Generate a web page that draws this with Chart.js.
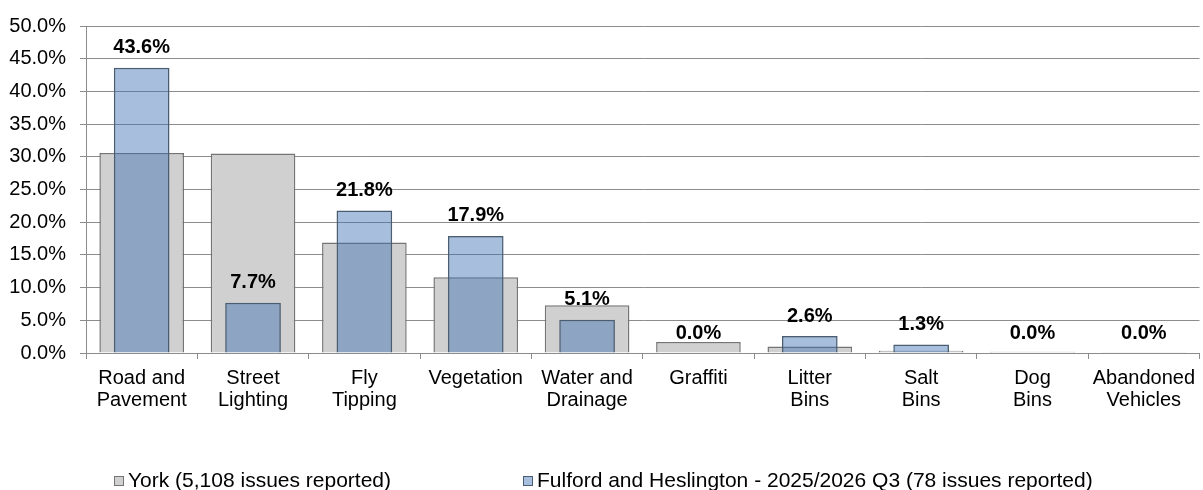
<!DOCTYPE html>
<html>
<head>
<meta charset="utf-8">
<script src="https://cdn.jsdelivr.net/npm/chart.js@4/dist/chart.umd.min.js"></script>
<style>
  html, body { margin: 0; padding: 0; background: #fff; }
  #wrap { position: relative; width: 1203px; height: 490px; overflow: hidden; }
  #legend { position: absolute; top: 469px; left: 0; width: 1203px; height: 21px;
    font-family: "Liberation Sans", Arial, sans-serif; font-size: 21px; color: #000; }
  .item { position: absolute; top: 0; white-space: nowrap; line-height: 22px; }
  .box { display: inline-block; width: 10px; height: 10px; margin-right: 4px; vertical-align: 1px; box-sizing: border-box; }
</style>
</head>
<body>
<div id="wrap">
  <canvas id="c" width="1203" height="490"></canvas>
  <div id="legend"></div>
</div>
<script>
const categories = [
  ["Road and", "Pavement"], ["Street", "Lighting"], ["Fly", "Tipping"], ["Vegetation"],
  ["Water and", "Drainage"], ["Graffiti"], ["Litter", "Bins"], ["Salt", "Bins"],
  ["Dog", "Bins"], ["Abandoned", "Vehicles"]
];
const yorkLabel = "York (5,108 issues reported)";
const fulfordLabel = "Fulford and Heslington - 2025/2026 Q3 (78 issues reported)";
const yorkValues = [30.6, 30.5, 16.9, 11.6, 7.3, 1.7, 1.0, 0.35, 0.2, 0.1];
const fulfordValues = [43.6, 7.7, 21.8, 17.9, 5.1, 0.0, 2.6, 1.3, 0.0, 0.0];
const yTicks = [0, 5, 10, 15, 20, 25, 30, 35, 40, 45, 50];

const FONT = '"Liberation Sans", Arial, sans-serif';
const yorkFill = '#d0d0d0', yorkBorder = '#747474';
const fulFill = 'rgba(59,113,177,0.45)', fulBorder = '#4a5d72';

Chart.defaults.font.family = FONT;
Chart.defaults.font.size = 20;
Chart.defaults.color = '#000';

const labelPlugin = {
  id: 'valueLabels',
  afterDatasetsDraw(chart) {
    const ctx = chart.ctx;
    const meta = chart.getDatasetMeta(0);
    ctx.save();
    ctx.font = 'bold 20px ' + FONT;
    ctx.fillStyle = '#000';
    ctx.textAlign = 'center';
    ctx.textBaseline = 'middle';
    meta.data.forEach((el, i) => {
      ctx.fillText(fulfordValues[i].toFixed(1) + '%', el.x, el.y - 20);
    });
    ctx.restore();
  }
};

new Chart(document.getElementById('c'), {
  type: 'bar',
  data: {
    labels: categories,
    datasets: [
      { label: fulfordLabel, data: fulfordValues, backgroundColor: fulFill, borderColor: fulBorder,
        borderWidth: 1.5, barPercentage: 0.5, categoryPercentage: 1, grouped: false, order: 0 },
      { label: yorkLabel, data: yorkValues, backgroundColor: yorkFill, borderColor: yorkBorder,
        borderWidth: 1.5, barPercentage: 0.76, categoryPercentage: 1, grouped: false, order: 1 }
    ]
  },
  options: {
    responsive: false,
    animation: false,
    layout: { padding: { top: 21, right: 0, left: 0, bottom: 0 } },
    plugins: { legend: { display: false }, tooltip: { enabled: false } },
    scales: {
      x: {
        grid: { drawOnChartArea: false, drawTicks: true, tickLength: 6, color: '#8c8c8c' },
        border: { color: '#8c8c8c' },
        ticks: { padding: 8, maxRotation: 0, autoSkip: false, font: { size: 20, lineHeight: 1.1 } },
        afterFit(scale) { scale.height = 137; }
      },
      y: {
        min: 0, max: 50,
        afterBuildTicks(scale) { scale.ticks = yTicks.map(v => ({ value: v })); },
        grid: { color: '#8c8c8c', tickLength: 6 },
        border: { color: '#8c8c8c' },
        ticks: { padding: 14, callback: v => v.toFixed(1) + '%', font: { size: 20 } },
        afterFit(scale) { scale.width = 86; }
      }
    }
  },
  plugins: [labelPlugin]
});

const legend = document.getElementById('legend');
[[yorkLabel, yorkFill, yorkBorder, 114], [fulfordLabel, fulFill, fulBorder, 523]].forEach(([t, f, b, x]) => {
  const d = document.createElement('div');
  d.className = 'item';
  d.style.left = x + 'px';
  const s = document.createElement('span');
  s.className = 'box';
  s.style.background = f;
  s.style.border = '1px solid ' + b;
  d.appendChild(s);
  d.appendChild(document.createTextNode(t));
  legend.appendChild(d);
});
</script>
</body>
</html>
